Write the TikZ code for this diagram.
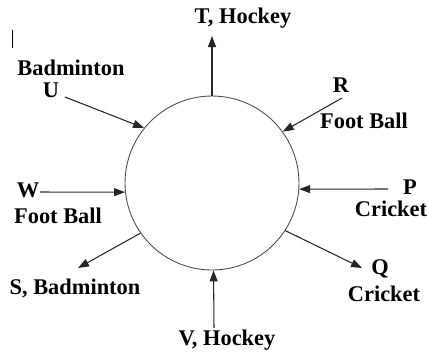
\documentclass[tikz,border=0pt]{standalone}
\usepackage{fontspec}
\setmainfont{Liberation Serif}
\usetikzlibrary{arrows.meta}
\tikzset{
  every picture/.style={line width=0.6pt},
  lbl/.style={font=\fontsize{12.75}{15}\selectfont\bfseries, inner sep=0pt},
  arrow/.style={-{Triangle[length=2.2mm, width=1.6mm]}, draw=black!85},
}
\begin{document}
\begin{tikzpicture}[x=0.02cm, y=-0.02cm]
  \useasboundingbox (0,0) rectangle (428,353);
  \node[draw=black!70, circle, minimum size=3.48cm, inner sep=0pt, line width=0.5pt] (ring) at (212,183) {};
  % labels round the ring
  \node[lbl] (lT) at (243,18) {T, Hockey};
  \node[lbl] (lR) at (341,85) {R};
  \node[lbl] (lRs) at (364,121) {Foot Ball};
  \node[lbl] (lP) at (410,187) {P};
  \node[lbl] (lPs) at (391,209) {Cricket};
  \node[lbl] (lQ) at (380,269) {Q};
  \node[lbl] (lQs) at (384,294) {Cricket};
  \node[lbl] (lV) at (227,340) {V, Hockey};
  \node[lbl] (lS) at (75,288) {S, Badminton};
  \node[lbl] (lW) at (28,190) {W};
  \node[lbl] (lWs) at (58,216) {Foot Ball};
  \node[lbl] (lUs) at (71,68) {Badminton};
  \node[lbl] (lU) at (51,90) {U};
  % free ends of the arrows
  \coordinate (eT) at (212,36);
  \coordinate (eR) at (342,98);
  \coordinate (eP) at (388,189);
  \coordinate (eQ) at (362,268);
  \coordinate (eV) at (214,328);
  \coordinate (eS) at (78,268);
  \coordinate (eW) at (40,192);
  \coordinate (eU) at (65,97);
  % arrows
  \draw[arrow] (ring.north) -- (eT);
  \draw[arrow] (eR) -- (ring.36);
  \draw[arrow] (eP) -- (ring.-4);
  \draw[arrow] (ring.-33) -- (eQ);
  \draw[arrow] (eV) -- (ring.-89);
  \draw[arrow] (ring.215) -- (eS);
  \draw[arrow] (eW) -- (ring.186);
  \draw[arrow] (eU) -- (ring.141);
  \draw[line width=0.4pt] (12,30) -- (12,48);
\end{tikzpicture}
\end{document}
